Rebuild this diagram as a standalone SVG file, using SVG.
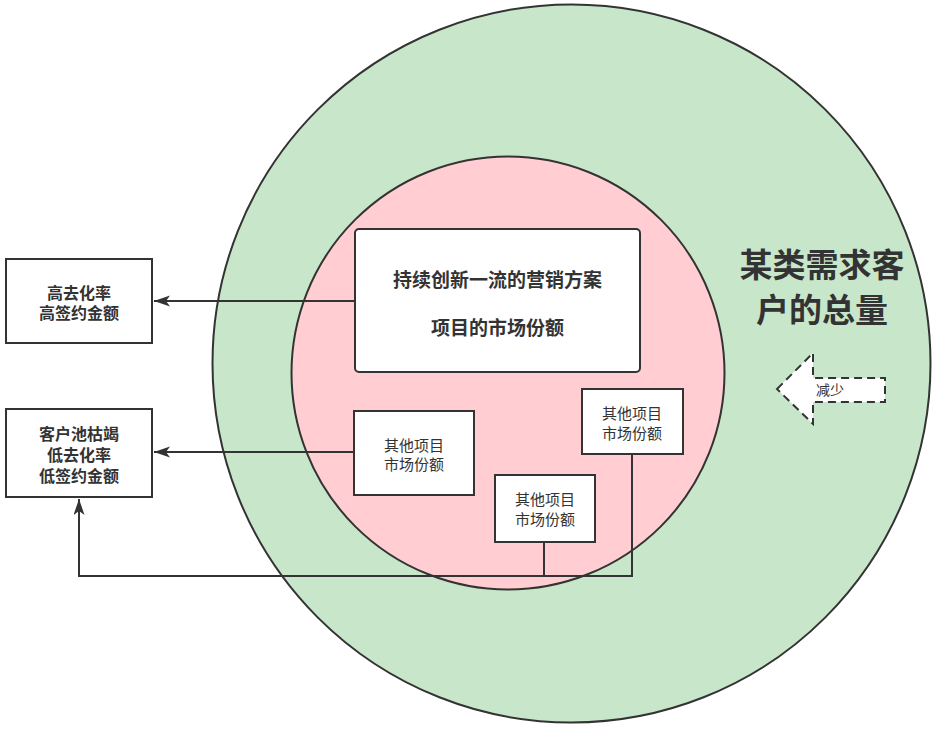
<svg xmlns="http://www.w3.org/2000/svg" width="933" height="730" viewBox="0 0 933 730">
<style>
.t{font-family:"Noto Sans CJK SC","Microsoft YaHei",sans-serif;fill:#333333;text-anchor:middle;dominant-baseline:central}
.b{font-weight:bold}
.box{fill:#ffffff;stroke:#333333;stroke-width:2}
.edge{fill:none;stroke:#333333;stroke-width:2}
</style>
<defs>
<marker id="arr" markerUnits="userSpaceOnUse" markerWidth="17" markerHeight="12" refX="16" refY="5.5" orient="auto">
<path d="M0,0 L16,5.5 L0,11 L4,5.5 Z" fill="#333333"/>
</marker>
</defs>
<rect width="933" height="730" fill="#ffffff"/>
<g id="outer-circle">
<circle cx="571.5" cy="363.5" r="359" fill="#C8E6C9" stroke="#333333" stroke-width="2"/>
<text class="t b" font-size="33"><tspan x="822" y="263">某类需求客</tspan><tspan x="822" y="308">户的总量</tspan></text>
</g>
<g id="inner-circle">
<circle cx="508" cy="373" r="216.5" fill="#FFCDD2" stroke="#333333" stroke-width="2"/>
</g>
<g id="decrease-arrow">
<polygon points="777,389 813,353 813,378 885,378 885,402 813,402 813,424" fill="#ffffff" stroke="#333333" stroke-width="2" stroke-dasharray="8 5"/>
<text class="t" x="830" y="389" font-size="14">减少</text>
</g>
<g id="connectors">
<path class="edge" d="M355,301 L154,301" marker-end="url(#arr)"/>
<path class="edge" d="M354,452 L154,452" marker-end="url(#arr)"/>
<path class="edge" d="M632,454 L632,576 L79,576 L79,499" marker-end="url(#arr)"/>
<path class="edge" d="M544,542 L544,576 L79,576 L79,499"/>
</g>
<g id="main-box">
<rect class="box" x="355" y="229" width="285" height="143" rx="4"/>
<text class="t b" font-size="19"><tspan x="497.5" y="278">持续创新一流的营销方案</tspan><tspan x="497.5" y="326">项目的市场份额</tspan></text>
</g>
<g id="high-box">
<rect class="box" x="6" y="259" width="146" height="84"/>
<text class="t b" font-size="16"><tspan x="79" y="292">高去化率</tspan><tspan x="79" y="312">高签约金额</tspan></text>
</g>
<g id="low-box">
<rect class="box" x="6" y="409" width="146" height="88"/>
<text class="t b" font-size="16"><tspan x="79" y="433">客户池枯竭</tspan><tspan x="79" y="454">低去化率</tspan><tspan x="79" y="475">低签约金额</tspan></text>
</g>
<g id="other-1">
<rect class="box" x="354" y="411" width="120" height="84"/>
<text class="t" font-size="15"><tspan x="414" y="444">其他项目</tspan><tspan x="414" y="463">市场份额</tspan></text>
</g>
<g id="other-2">
<rect class="box" x="495" y="475" width="100" height="67"/>
<text class="t" font-size="15"><tspan x="545" y="498">其他项目</tspan><tspan x="545" y="518">市场份额</tspan></text>
</g>
<g id="other-3">
<rect class="box" x="582" y="389" width="101" height="65"/>
<text class="t" font-size="15"><tspan x="632" y="412">其他项目</tspan><tspan x="632" y="432">市场份额</tspan></text>
</g>
</svg>
